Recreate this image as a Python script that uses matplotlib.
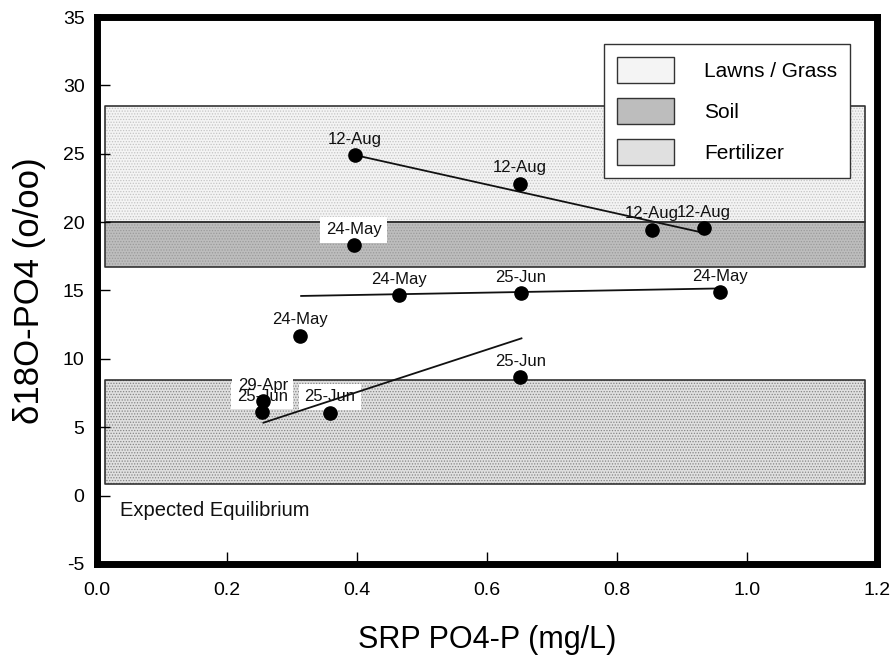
import matplotlib
matplotlib.use("Agg")
import matplotlib.pyplot as plt
from matplotlib.patches import Patch
import numpy as np

plt.rcParams["font.family"] = ["Liberation Sans", "DejaVu Sans"]
plt.rcParams["axes.unicode_minus"] = False
plt.rcParams["hatch.linewidth"] = 0.6

# sample points: SRP (mg/L) vs d18O-PO4 (o/oo), labelled by sampling date
srp = [0.397, 0.650, 0.854, 0.934, 0.395, 0.464, 0.652, 0.958, 0.313, 0.255, 0.254, 0.358, 0.651]
d18o = [24.9, 22.8, 19.45, 19.55, 18.3, 14.66, 14.8, 14.86, 11.7, 6.9, 6.1, 6.06, 8.65]
dates = ["12-Aug", "12-Aug", "12-Aug", "12-Aug", "24-May", "24-May", "25-Jun",
         "24-May", "24-May", "29-Apr", "25-Jun", "25-Jun", "25-Jun"]
boxed = [False, False, False, False, True, False, False,
         False, False, True, True, True, False]

# trend lines (start/end)
trend_x = [[0.397, 0.930], [0.314, 0.958], [0.256, 0.653]]
trend_y = [[24.9, 19.25], [14.6, 15.15], [5.33, 11.5]]

# source ranges
band_names = ["Lawns / Grass", "Soil", "Fertilizer"]
band_lo = [20.0, 16.75, 0.86]
band_hi = [28.5, 20.0, 8.43]
band_x = [0.013, 1.182]
band_fc = ["#f4f4f4", "#bdbdbd", "#e0e0e0"]
band_hc = ["#c4c4c4", "#9a9a9a", "#858585"]

INK = "#111111"

fig = plt.figure(figsize=(8.96, 6.59), dpi=100)
ax = fig.add_axes([0.1083, 0.1442, 0.9788 - 0.1083, 0.9742 - 0.1442])

for lo, hi, fc, hc in zip(band_lo, band_hi, band_fc, band_hc):
    ax.fill_between(band_x, lo, hi, facecolor=fc, edgecolor=hc, linewidth=0,
                    hatch="......", zorder=1)
    ax.fill_between(band_x, lo, hi, facecolor="none", edgecolor="#333333",
                    linewidth=1.2, zorder=1.5)

for tx, ty in zip(trend_x, trend_y):
    ax.plot(tx, ty, color=INK, lw=1.3, zorder=3)

# white label backgrounds first, then all label texts on top
for x, y, d, b in zip(srp, d18o, dates, boxed):
    if b:
        ax.annotate(d, (x, y), xytext=(0, 6), textcoords="offset points",
                    ha="center", va="bottom", fontsize=12, color="none",
                    bbox=dict(facecolor="white", edgecolor="none", pad=4), zorder=2)
for x, y, d in zip(srp, d18o, dates):
    ax.annotate(d, (x, y), xytext=(0, 6), textcoords="offset points",
                ha="center", va="bottom", fontsize=12, color=INK, zorder=2.5)

ax.plot(srp, d18o, "o", color="black", ms=9.5, zorder=4)

ax.text(0.036, -1.1, "Expected Equilibrium", fontsize=14.5, va="center", color=INK)

handles = [Patch(facecolor=fc, edgecolor="#333333", lw=1) for fc in band_fc]
leg = ax.legend(handles, band_names, loc="upper right", bbox_to_anchor=(0.966, 0.951),
                borderaxespad=0, fontsize=15, handlelength=2.7, handleheight=1.5,
                handletextpad=1.45, labelspacing=0.75, borderpad=0.65,
                fancybox=False, framealpha=1)
leg.get_frame().set_edgecolor("#333333")
leg.get_frame().set_linewidth(1)
leg.set_zorder(5)

ax.set_xlim(0, 1.2)
ax.set_ylim(-5, 35)
ax.set_xticks(np.arange(0, 1.21, 0.2))
ax.set_xticklabels([f"{v:.1f}" for v in np.arange(0, 1.21, 0.2)])
ax.set_yticks(np.arange(-5, 36, 5))
ax.tick_params(direction="in", length=9, width=1, labelsize=14)
ax.tick_params(axis="x", pad=13)
ax.tick_params(axis="y", pad=9)
for s in ax.spines.values():
    s.set_linewidth(5)
    s.set_zorder(6)

ax.set_xlabel("SRP PO4-P (mg/L)", fontsize=22, labelpad=19)
ax.set_ylabel("\u03b418O-PO4 (o/oo)", fontsize=25, labelpad=12)

fig.savefig("out.png", dpi=100, facecolor="white")
